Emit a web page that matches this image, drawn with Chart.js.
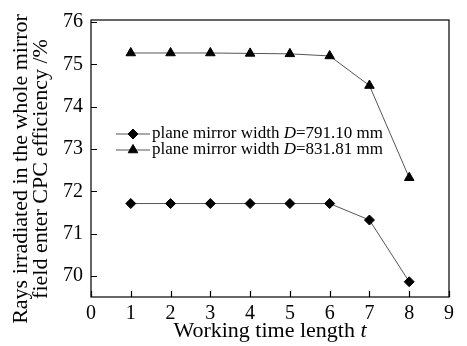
<!DOCTYPE html>
<html lang="en">
<head>
<meta charset="UTF-8">
<title>CPC efficiency vs working time</title>
<script src="https://cdn.jsdelivr.net/npm/chart.js@4.4.1"></script>
<style>
  html,body{margin:0;padding:0;background:#fff;overflow:hidden;}
</style>
</head>
<body>
<canvas id="c" width="467" height="346"></canvas>
<script>
// data
const hours = [1, 2, 3, 4, 5, 6, 7, 8];
const effD791 = [71.71, 71.71, 71.71, 71.71, 71.71, 71.71, 71.32, 69.86];
const effD832 = [75.27, 75.27, 75.27, 75.26, 75.25, 75.2, 74.5, 72.32];
const seriesNames = ['791.10', '831.81'];
const xTicks = [0, 1, 2, 3, 4, 5, 6, 7, 8, 9];
const yTicks = [70, 71, 72, 73, 74, 75, 76];

const SERIF = '"Liberation Serif", "DejaVu Serif", serif';
const LINE = '#555';

function pts(ys){ return hours.map((x,i)=>({x:x,y:ys[i]})); }

// frame, inward ticks, legend, titles
const decor = {
  id:'decor',
  afterDraw(chart){
    const {ctx, chartArea:a, scales:{x,y}} = chart;
    ctx.save();
    ctx.strokeStyle = '#000'; ctx.lineWidth = 1.2;
    ctx.strokeRect(a.left, a.top, a.right-a.left, a.bottom-a.top);
    ctx.beginPath();
    yTicks.forEach(v=>{const p=Math.round(y.getPixelForValue(v))+0.5; ctx.moveTo(a.left,p); ctx.lineTo(a.left+6,p);});
    xTicks.forEach(v=>{const p=Math.round(x.getPixelForValue(v))+0.5; ctx.moveTo(p,a.bottom); ctx.lineTo(p,a.bottom-6);});
    ctx.stroke();

    // legend
    const rows = [[chart.data.datasets[0], 134], [chart.data.datasets[1], 150]];
    rows.forEach(([ds, ly], i)=>{
      ctx.strokeStyle = ds.borderColor; ctx.lineWidth = 1;
      ctx.beginPath(); ctx.moveTo(116, ly); ctx.lineTo(150, ly); ctx.stroke();
      ctx.fillStyle = '#000'; ctx.strokeStyle = '#000';
      Chart.helpers.drawPoint(ctx, {pointStyle: ds.pointStyle, radius: ds.pointRadius, borderWidth: 1, rotation: 0}, 133, ly);
      let tx = 152;
      ctx.textBaseline = 'middle'; ctx.textAlign = 'left';
      const parts = [['plane mirror width ', ''], ['D', 'italic '], ['=' + seriesNames[i] + ' mm', '']];
      parts.forEach(([t, st])=>{
        ctx.font = st + '17px ' + SERIF;
        ctx.fillText(t, tx, ly);
        tx += ctx.measureText(t).width;
      });
    });

    // x title
    ctx.fillStyle = '#000';
    ctx.textBaseline = 'alphabetic';
    const t1 = 'Working time length ';
    ctx.font = 'italic 22px ' + SERIF;
    const w2 = ctx.measureText('t').width;
    ctx.font = '22px ' + SERIF;
    const w1 = ctx.measureText(t1).width;
    let sx = 270 - (w1 + w2)/2;
    ctx.textAlign = 'left';
    ctx.fillText(t1, sx, 337);
    ctx.font = 'italic 22px ' + SERIF;
    ctx.fillText('t', sx + w1, 337);

    // y title, two rotated lines
    ctx.save();
    ctx.translate(0, 169);
    ctx.rotate(-Math.PI/2);
    ctx.font = '22px ' + SERIF;
    ctx.textAlign = 'center';
    ctx.textBaseline = 'alphabetic';
    ctx.fillText('Rays irradiated in the whole mirror', 0, 27);
    ctx.fillText('field enter CPC efficiency /%', 0, 47);
    ctx.restore();
    ctx.restore();
  }
};

new Chart(document.getElementById('c'), {
  type:'line',
  data:{datasets:[
    {label:'D=791.10 mm', data:pts(effD791), borderColor:LINE, borderWidth:1,
     pointStyle:'rectRot', pointRadius:5, pointBackgroundColor:'#000', pointBorderColor:'#000', tension:0},
    {label:'D=831.81 mm', data:pts(effD832), borderColor:LINE, borderWidth:1,
     pointStyle:'triangle', pointRadius:5.5, pointBackgroundColor:'#000', pointBorderColor:'#000', tension:0}
  ]},
  options:{
    responsive:false, animation:false,
    layout:{padding:{left:0, top:20, right:18, bottom:0}},
    plugins:{legend:{display:false}, tooltip:{enabled:false}},
    scales:{
      x:{type:'linear', min:0, max:9,
        afterBuildTicks:s=>{s.ticks = xTicks.map(v=>({value:v}));},
        afterFit:s=>{s.height = 49;},
        grid:{display:false, drawTicks:false}, border:{display:false},
        ticks:{color:'#000', padding:5, font:{family:SERIF, size:20}, maxRotation:0}},
      y:{min:69.5, max:76.05,
        afterBuildTicks:s=>{s.ticks = yTicks.map(v=>({value:v}));},
        afterFit:s=>{s.width = 91;},
        grid:{display:false, drawTicks:false}, border:{display:false},
        ticks:{color:'#000', padding:8, font:{family:SERIF, size:20}}}
    }
  },
  plugins:[decor]
});
</script>
</body>
</html>
